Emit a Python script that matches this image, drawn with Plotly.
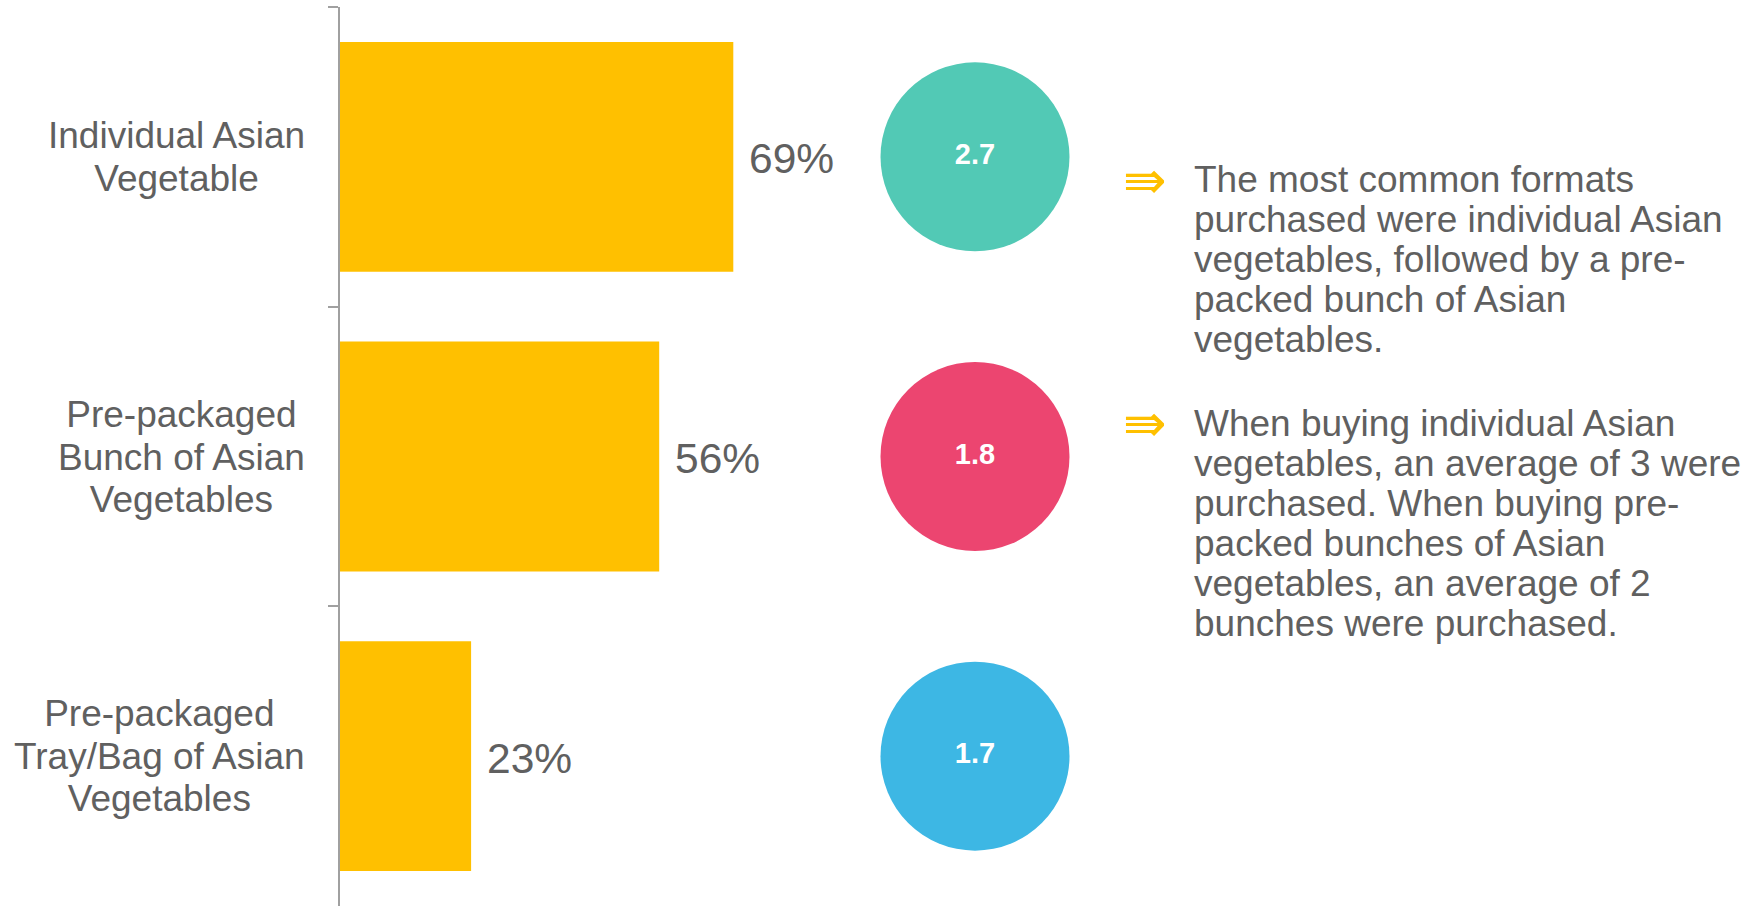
import plotly.graph_objects as go

# Purchase formats and their share of shoppers (%)
categories = [
    "Individual Asian<br>Vegetable",
    "Pre-packaged<br>Bunch of Asian<br>Vegetables",
    "Pre-packaged<br>Tray/Bag of Asian<br>Vegetables",
]
share_pct = [69, 56, 23]

# Average number of items bought per format
avg_units = [2.7, 1.8, 1.7]
circle_colors = ["#52C9B5", "#EC4570", "#3DB7E4"]

# Commentary beside the chart
notes = [
    ["The most common formats", "purchased were individual Asian",
     "vegetables, followed by a pre-", "packed bunch of Asian", "vegetables."],
    ["When buying individual Asian", "vegetables, an average of 3 were",
     "purchased. When buying pre-", "packed bunches of Asian",
     "vegetables, an average of 2", "bunches were purchased."],
]

W, H = 1762, 907
GRAY = "#606060"
AXIS = "#A0A0A0"
BAR = "#FFC000"
SANS = "Liberation Sans, Arial, sans-serif"

fig = go.Figure()

fig.add_trace(go.Bar(
    x=share_pct, y=categories, orientation="h",
    marker=dict(color=BAR, line=dict(width=0)),
    hoverinfo="skip",
))

fig.add_trace(go.Scatter(
    x=[0] * len(avg_units), y=categories, xaxis="x2", yaxis="y",
    mode="markers+text",
    marker=dict(size=189, color=circle_colors, line=dict(width=0)),
    text=[f"<b>{v}</b>" for v in avg_units],
    textposition="middle center",
    textfont=dict(family=SANS, size=29, color="white"),
    cliponaxis=False, hoverinfo="skip",
))

annotations = []


def spanned(lines, size):
    """Join lines with breaks, each line rendered at its own font size."""
    return "<br>".join(f"<span style='font-size:{size}px'>{ln}</span>" for ln in lines)


# category labels: centred lines, block right-aligned next to the axis
for cat in categories:
    lines = cat.split("<br>")
    annotations.append(dict(
        xref="paper", yref="y", x=307 / W, y=cat,
        xanchor="right", yanchor="middle", align="center",
        text=spanned(lines, 37), showarrow=False,
        font=dict(family=SANS, size=42.5 / 1.3, color=GRAY),
    ))

# value labels at the end of each bar
for cat, v in zip(categories, share_pct):
    annotations.append(dict(
        xref="x", yref="y", x=v, y=cat, xanchor="left", yanchor="middle",
        xshift=14, yshift=-2, text=f"{v}%", showarrow=False,
        font=dict(family=SANS, size=42.5, color=GRAY),
    ))

# bullet notes
para_centers = [259.6, 523.0]
arrow_centers = [180, 422.5]
for lines, yc, ya in zip(notes, para_centers, arrow_centers):
    annotations.append(dict(
        xref="paper", yref="paper", x=1192 / W, y=1 - yc / H,
        xanchor="left", yanchor="middle", align="left",
        text=spanned(lines, 37), showarrow=False,
        font=dict(family=SANS, size=40.0 / 1.3, color=GRAY),
    ))
    annotations.append(dict(
        xref="paper", yref="paper", x=1144.5 / W, y=1 - ya / H,
        xanchor="center", yanchor="middle", text="\u21DB", showarrow=False,
        font=dict(family="DejaVu Sans", size=52, color=BAR),
    ))

x0 = 340
fig.update_layout(
    width=W, height=H,
    margin=dict(l=0, r=0, t=0, b=0, pad=0),
    paper_bgcolor="white", plot_bgcolor="white",
    showlegend=False, bargap=0.233,
    xaxis=dict(domain=[x0 / W, 1], range=[0, (W - x0) / 5.70], visible=False),
    xaxis2=dict(domain=[925 / W, 1025 / W], range=[-1, 1], anchor="y", visible=False),
    yaxis=dict(
        type="category", categoryorder="array", categoryarray=categories,
        range=[2.5, -0.5], domain=[1 / H, 900 / H],
        showline=True, linecolor=AXIS, linewidth=2,
        ticks="outside", tickson="boundaries", ticklen=10, tickwidth=2, tickcolor=AXIS,
        showticklabels=False, showgrid=False, zeroline=False,
    ),
    annotations=annotations,
)

fig.write_html("out.html")
